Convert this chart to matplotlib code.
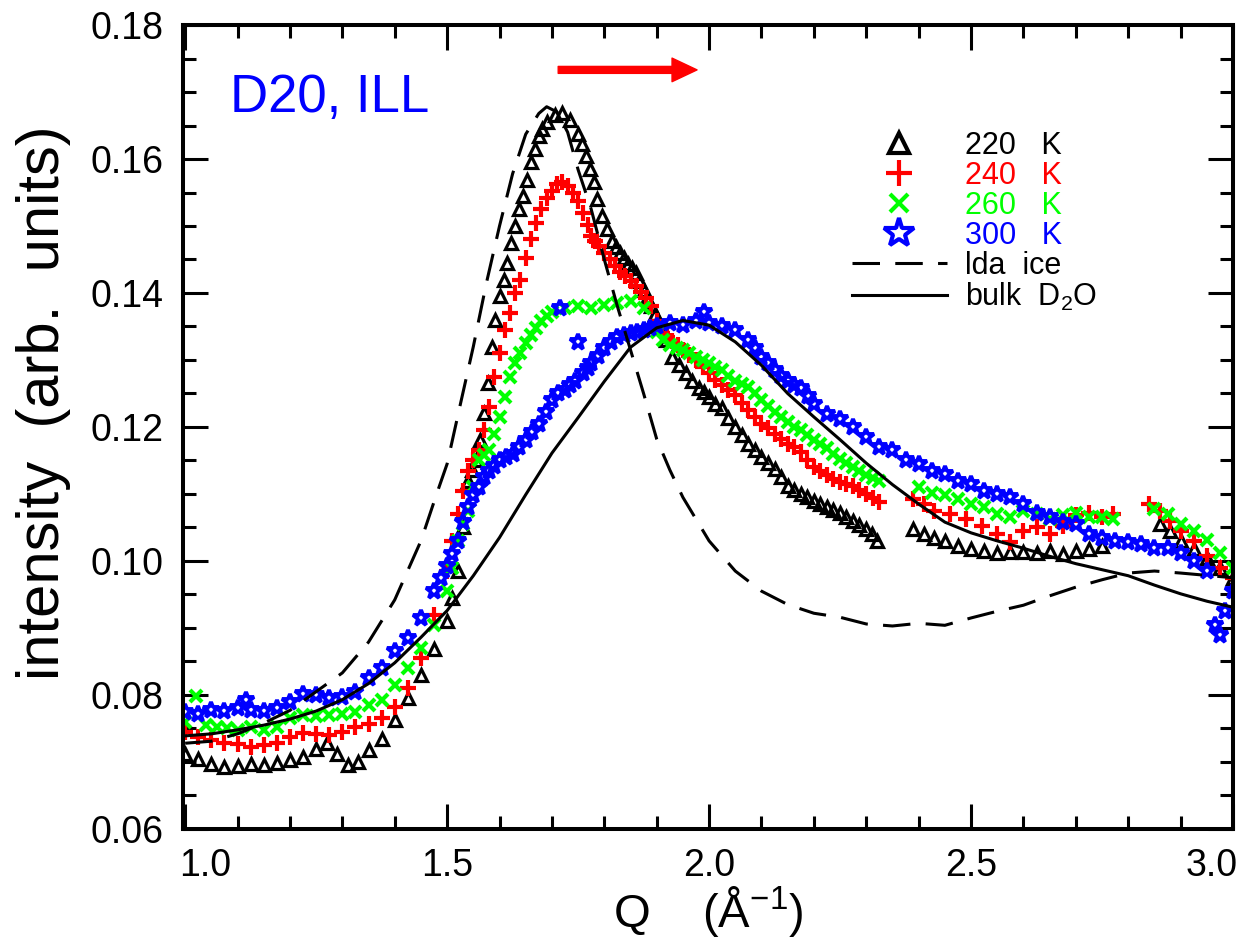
import matplotlib
matplotlib.use('Agg')
import matplotlib.pyplot as plt
import matplotlib.transforms as mtrans
from matplotlib.lines import Line2D
from matplotlib.ticker import MultipleLocator, FormatStrFormatter

# (Q, intensity)
s220 = [(1.000, 0.0712), (1.025, 0.0705), (1.050, 0.0697), (1.075, 0.0693), (1.100, 0.0694),
        (1.125, 0.0697), (1.150, 0.0695), (1.175, 0.0698), (1.200, 0.0703), (1.225, 0.0708),
        (1.250, 0.0720), (1.270, 0.0728), (1.290, 0.0712), (1.310, 0.0695), (1.330, 0.0700),
        (1.350, 0.0718), (1.375, 0.0735), (1.400, 0.0762), (1.425, 0.0795), (1.450, 0.0830),
        (1.475, 0.0868), (1.500, 0.0910), (1.520, 0.0985), (1.540, 0.1120), (1.555, 0.1150),
        (1.570, 0.1221), (1.585, 0.1320), (1.600, 0.1395), (1.615, 0.1445), (1.630, 0.1500),
        (1.645, 0.1545), (1.660, 0.1595), (1.675, 0.1635), (1.690, 0.1655), (1.705, 0.1665),
        (1.720, 0.1668), (1.735, 0.1658), (1.750, 0.1637), (1.765, 0.1605), (1.780, 0.1565),
        (1.795, 0.1515), (1.815, 0.1478), (1.830, 0.1460), (1.845, 0.1443), (1.860, 0.1430),
        (1.875, 0.1404), (1.890, 0.1380), (1.905, 0.1355), (1.930, 0.1305), (1.955, 0.1280),
        (1.980, 0.1258), (2.000, 0.1245), (2.025, 0.1228), (2.050, 0.1200), (2.075, 0.1175),
        (2.100, 0.1155), (2.125, 0.1138), (2.150, 0.1112), (2.175, 0.1100), (2.200, 0.1090),
        (2.225, 0.1080), (2.250, 0.1072), (2.275, 0.1060), (2.300, 0.1048), (2.320, 0.1030),
        (2.390, 0.1048), (2.410, 0.1040), (2.430, 0.1035), (2.450, 0.1030), (2.475, 0.1022),
        (2.500, 0.1018), (2.525, 0.1015), (2.550, 0.1012), (2.575, 0.1013), (2.600, 0.1014),
        (2.625, 0.1012), (2.650, 0.1015), (2.675, 0.1010), (2.700, 0.1015), (2.725, 0.1018),
        (2.750, 0.1022), (2.860, 0.1055), (2.880, 0.1045), (2.900, 0.1030), (2.925, 0.1018),
        (2.950, 0.1005), (2.975, 0.0990), (3.000, 0.0975)]
s220_more = [(1.510, 0.0945), (1.530, 0.1050), (1.548, 0.1136), (1.562, 0.1180), (1.578, 0.1266),
             (1.592, 0.1360), (1.608, 0.1420), (1.622, 0.1475), (1.638, 0.1525), (1.652, 0.1569),
             (1.668, 0.1615), (1.682, 0.1645), (1.757, 0.1622), (1.772, 0.1585), (1.787, 0.1540),
             (1.805, 0.1495), (1.822, 0.1468), (1.838, 0.1452), (1.852, 0.1437), (1.867, 0.1418),
             (1.882, 0.1392), (1.897, 0.1368), (1.918, 0.1330), (1.942, 0.1292), (1.968, 0.1268),
             (1.990, 0.1252), (2.012, 0.1235), (2.037, 0.1214), (2.062, 0.1188), (2.087, 0.1165),
             (2.112, 0.1146), (2.137, 0.1125), (2.162, 0.1106), (2.187, 0.1095), (2.212, 0.1085),
             (2.237, 0.1076), (2.262, 0.1066), (2.287, 0.1054), (2.310, 0.1040)]

s240 = [(1.000, 0.0745), (1.025, 0.0738), (1.050, 0.0733), (1.075, 0.0729), (1.100, 0.0727),
        (1.125, 0.0722), (1.150, 0.0725), (1.175, 0.0728), (1.200, 0.0738), (1.225, 0.0743),
        (1.250, 0.0742), (1.275, 0.0740), (1.300, 0.0745), (1.325, 0.0752), (1.350, 0.0757),
        (1.375, 0.0765), (1.400, 0.0782), (1.425, 0.0810), (1.450, 0.0855), (1.475, 0.0920),
        (1.500, 0.0985), (1.520, 0.1070), (1.540, 0.1135), (1.560, 0.1165), (1.580, 0.1230),
        (1.600, 0.1310), (1.620, 0.1370), (1.640, 0.1420), (1.660, 0.1480), (1.680, 0.1525),
        (1.700, 0.1552), (1.720, 0.1566), (1.740, 0.1550), (1.760, 0.1520), (1.775, 0.1485),
        (1.790, 0.1470), (1.810, 0.1450), (1.830, 0.1432), (1.850, 0.1418), (1.870, 0.1402),
        (1.890, 0.1380), (1.910, 0.1340), (1.930, 0.1328), (1.950, 0.1315), (1.975, 0.1300),
        (2.000, 0.1280), (2.025, 0.1262), (2.050, 0.1248), (2.075, 0.1225), (2.100, 0.1205),
        (2.125, 0.1190), (2.150, 0.1175), (2.175, 0.1163), (2.200, 0.1140), (2.225, 0.1128),
        (2.250, 0.1118), (2.275, 0.1112), (2.300, 0.1100), (2.325, 0.1088), (2.390, 0.1092),
        (2.410, 0.1085), (2.430, 0.1075), (2.460, 0.1070), (2.490, 0.1062), (2.520, 0.1052),
        (2.550, 0.1040), (2.575, 0.1028), (2.600, 0.1045), (2.625, 0.1050), (2.650, 0.1040),
        (2.675, 0.1052), (2.700, 0.1068), (2.725, 0.1072), (2.750, 0.1066), (2.770, 0.1070),
        (2.840, 0.1085), (2.860, 0.1075), (2.880, 0.1060), (2.900, 0.1045), (2.925, 0.1030),
        (2.950, 0.1008), (2.975, 0.0990), (3.000, 0.0975)]
s240_more = [(1.510, 0.1030), (1.530, 0.1105), (1.550, 0.1150), (1.570, 0.1195), (1.590, 0.1275),
             (1.610, 0.1345), (1.630, 0.1400), (1.650, 0.1452), (1.670, 0.1505), (1.690, 0.1542),
             (1.710, 0.1562), (1.730, 0.1560), (1.750, 0.1537), (1.768, 0.1502), (1.782, 0.1478),
             (1.800, 0.1460), (1.820, 0.1440), (1.840, 0.1425), (1.860, 0.1410), (1.880, 0.1392),
             (1.900, 0.1358), (1.920, 0.1334), (1.940, 0.1322), (1.962, 0.1308), (1.988, 0.1290),
             (2.012, 0.1270), (2.037, 0.1255), (2.062, 0.1236), (2.087, 0.1215), (2.112, 0.1198),
             (2.137, 0.1182), (2.162, 0.1170), (2.187, 0.1150), (2.212, 0.1134), (2.237, 0.1123),
             (2.262, 0.1115), (2.287, 0.1106), (2.312, 0.1094)]

s260 = [(1.000, 0.0760), (1.020, 0.0798), (1.040, 0.0755), (1.060, 0.0752), (1.080, 0.0750),
        (1.100, 0.0748), (1.125, 0.0752), (1.150, 0.0747), (1.175, 0.0752), (1.200, 0.0765),
        (1.225, 0.0770), (1.250, 0.0768), (1.275, 0.0770), (1.300, 0.0772), (1.325, 0.0775),
        (1.350, 0.0785), (1.375, 0.0792), (1.400, 0.0815), (1.425, 0.0840), (1.450, 0.0870),
        (1.475, 0.0905), (1.500, 0.0955), (1.520, 0.1030), (1.540, 0.1075), (1.560, 0.1150),
        (1.580, 0.1165), (1.600, 0.1215), (1.620, 0.1275), (1.640, 0.1310), (1.660, 0.1338),
        (1.680, 0.1358), (1.700, 0.1372), (1.725, 0.1378), (1.750, 0.1380), (1.775, 0.1378),
        (1.800, 0.1382), (1.825, 0.1385), (1.850, 0.1388), (1.875, 0.1378), (1.900, 0.1342),
        (1.925, 0.1322), (1.950, 0.1315), (1.975, 0.1305), (2.000, 0.1295), (2.025, 0.1285),
        (2.050, 0.1268), (2.075, 0.1260), (2.100, 0.1240), (2.125, 0.1222), (2.150, 0.1208),
        (2.175, 0.1195), (2.200, 0.1180), (2.225, 0.1168), (2.250, 0.1152), (2.275, 0.1140),
        (2.300, 0.1128), (2.325, 0.1120), (2.400, 0.1110), (2.425, 0.1102), (2.450, 0.1098),
        (2.475, 0.1092), (2.500, 0.1085), (2.525, 0.1080), (2.550, 0.1070), (2.575, 0.1065),
        (2.600, 0.1075), (2.625, 0.1070), (2.650, 0.1062), (2.675, 0.1068), (2.700, 0.1072),
        (2.725, 0.1066), (2.750, 0.1065), (2.770, 0.1062), (2.850, 0.1078), (2.875, 0.1070),
        (2.900, 0.1055), (2.925, 0.1045), (2.950, 0.1032), (2.975, 0.1012), (3.000, 0.0990)]
s260_more = [(1.510, 0.0990), (1.530, 0.1055), (1.550, 0.1110), (1.570, 0.1158), (1.590, 0.1190),
             (1.610, 0.1245), (1.630, 0.1295), (1.650, 0.1325), (1.670, 0.1348), (1.690, 0.1366),
             (1.912, 0.1330), (1.938, 0.1318), (1.962, 0.1310), (1.988, 0.1300), (2.012, 0.1290),
             (2.037, 0.1276), (2.062, 0.1264), (2.087, 0.1250), (2.112, 0.1231), (2.137, 0.1215),
             (2.162, 0.1200), (2.187, 0.1188), (2.212, 0.1174), (2.237, 0.1160), (2.262, 0.1146),
             (2.287, 0.1134), (2.312, 0.1124)]

s300 = [(1.000, 0.0775), (1.025, 0.0772), (1.050, 0.0778), (1.075, 0.0776), (1.100, 0.0780),
        (1.116, 0.0793), (1.125, 0.0778), (1.150, 0.0776), (1.175, 0.0780), (1.200, 0.0790),
        (1.225, 0.0802), (1.250, 0.0800), (1.275, 0.0795), (1.300, 0.0797), (1.325, 0.0805),
        (1.350, 0.0825), (1.375, 0.0840), (1.400, 0.0865), (1.425, 0.0885), (1.450, 0.0915),
        (1.475, 0.0955), (1.500, 0.0992), (1.520, 0.1030), (1.540, 0.1080), (1.560, 0.1110),
        (1.580, 0.1135), (1.600, 0.1150), (1.625, 0.1160), (1.650, 0.1180), (1.675, 0.1205),
        (1.700, 0.1240), (1.716, 0.1378), (1.725, 0.1255), (1.745, 0.1268), (1.750, 0.1327),
        (1.760, 0.1280), (1.775, 0.1295), (1.800, 0.1318), (1.825, 0.1335), (1.850, 0.1340),
        (1.875, 0.1345), (1.900, 0.1350), (1.925, 0.1355), (1.950, 0.1352), (1.975, 0.1358),
        (1.990, 0.1372), (2.000, 0.1355), (2.025, 0.1350), (2.050, 0.1345), (2.075, 0.1330),
        (2.100, 0.1305), (2.125, 0.1285), (2.150, 0.1268), (2.175, 0.1258), (2.200, 0.1235),
        (2.225, 0.1220), (2.250, 0.1212), (2.275, 0.1200), (2.300, 0.1185), (2.325, 0.1170),
        (2.350, 0.1165), (2.375, 0.1150), (2.400, 0.1145), (2.425, 0.1135), (2.450, 0.1130),
        (2.475, 0.1120), (2.500, 0.1115), (2.525, 0.1105), (2.550, 0.1100), (2.575, 0.1095),
        (2.600, 0.1085), (2.625, 0.1072), (2.650, 0.1065), (2.675, 0.1058), (2.700, 0.1055),
        (2.725, 0.1040), (2.750, 0.1035), (2.775, 0.1030), (2.800, 0.1028), (2.825, 0.1025),
        (2.850, 0.1020), (2.875, 0.1020), (2.900, 0.1012), (2.925, 0.1000), (2.950, 0.0985),
        (2.965, 0.0905), (2.975, 0.0890), (2.985, 0.0925), (3.000, 0.0955)]
s300_more = [(1.488, 0.0975), (1.510, 0.1010), (1.530, 0.1058), (1.550, 0.1098), (1.570, 0.1125),
             (1.590, 0.1142), (1.612, 0.1155), (1.638, 0.1170), (1.662, 0.1192), (1.688, 0.1222),
             (1.712, 0.1250), (1.735, 0.1262), (1.768, 0.1288), (1.788, 0.1306), (1.812, 0.1327),
             (1.838, 0.1338), (1.862, 0.1342), (1.888, 0.1348), (2.088, 0.1318), (2.112, 0.1295),
             (2.138, 0.1276), (2.162, 0.1262), (2.188, 0.1246)]

q_lda = [1.00, 1.05, 1.10, 1.15, 1.20, 1.25, 1.30, 1.35, 1.40, 1.45, 1.48, 1.50, 1.525, 1.55,
         1.575, 1.60, 1.625, 1.65, 1.675, 1.69, 1.71, 1.73, 1.75, 1.775, 1.80, 1.825, 1.85,
         1.875, 1.90, 1.925, 1.95, 2.00, 2.05, 2.10, 2.15, 2.20, 2.25, 2.30, 2.35, 2.40, 2.45,
         2.50, 2.55, 2.60, 2.65, 2.70, 2.75, 2.80, 2.85, 2.90, 3.00]
i_lda = [0.0728, 0.0731, 0.0742, 0.0758, 0.0777, 0.0805, 0.0833, 0.0879, 0.0942, 0.1030, 0.1100,
         0.1145, 0.1233, 0.1320, 0.1415, 0.1500, 0.1578, 0.1637, 0.1668, 0.1678, 0.1670, 0.1640,
         0.1584, 0.1525, 0.1450, 0.1380, 0.1315, 0.1250, 0.1182, 0.1136, 0.1095, 0.1030, 0.0985,
         0.0955, 0.0935, 0.0922, 0.0916, 0.0906, 0.0903, 0.0907, 0.0904, 0.0915, 0.0925, 0.0934,
         0.0948, 0.0961, 0.0972, 0.0982, 0.0985, 0.0982, 0.0975]

q_bulk = [1.00, 1.05, 1.10, 1.15, 1.20, 1.25, 1.30, 1.35, 1.40, 1.45, 1.50, 1.55, 1.60, 1.65,
          1.70, 1.75, 1.80, 1.85, 1.90, 1.95, 2.00, 2.05, 2.10, 2.15, 2.20, 2.25, 2.30, 2.35,
          2.40, 2.45, 2.50, 2.55, 2.60, 2.65, 2.70, 2.75, 2.80, 2.85, 2.90, 2.95, 3.00]
i_bulk = [0.0739, 0.0742, 0.0748, 0.0755, 0.0764, 0.0776, 0.0793, 0.0817, 0.0848, 0.0886, 0.0926,
          0.0978, 0.1035, 0.1099, 0.1161, 0.1214, 0.1268, 0.1319, 0.1348, 0.1359, 0.1352, 0.1327,
          0.1292, 0.1250, 0.1215, 0.1181, 0.1146, 0.1114, 0.1085, 0.1058, 0.1042, 0.1030, 0.1019,
          0.1007, 0.0996, 0.0987, 0.0978, 0.0964, 0.0951, 0.0940, 0.0931]

labels = ['220   K', '240   K', '260   K', '300   K', 'lda  ice', r'bulk  D$_2$O']
GREEN = '#00ff00'

plt.rcParams['font.family'] = ['Liberation Sans', 'DejaVu Sans']
plt.rcParams['mathtext.fontset'] = 'custom'
plt.rcParams['mathtext.rm'] = 'Liberation Sans'
plt.rcParams['mathtext.it'] = 'Liberation Sans:italic'

fig = plt.figure(figsize=(12.47, 9.40), dpi=100)
ax = fig.add_axes([0.1468, 0.1181, 0.8420, 0.8553])

styles = [(s220 + s220_more, 'k', '^', 8.5, 2.3),
          (s240 + s240_more, 'r', '+', 11, 3.0),
          (s260 + s260_more, GREEN, 'x', 8, 3.0),
          (s300 + s300_more, 'b', '*', 12, 2.8)]
for data, c, m, ms, mew in styles:
    q, y = zip(*data)
    ax.plot(q, y, ls='none', marker=m, ms=ms, mfc='none', mec=c, mew=mew)

ax.plot(q_lda, i_lda, color='k', lw=2.2, dashes=(9, 5), zorder=5)
ax.plot(q_bulk, i_bulk, color='k', lw=2.2, zorder=5)

# arrow showing the peak shift
ax.annotate('', xy=(1.977, 0.1733), xytext=(1.712, 0.1733),
            arrowprops=dict(facecolor='r', edgecolor='r', width=5, headwidth=17,
                            headlength=18, shrink=0))

ax.text(0.045, 0.892, 'D20, ILL', color='b', fontsize=38, transform=ax.transAxes,
        va='baseline')

handles = [Line2D([], [], ls='none', marker='^', ms=15, mfc='none', mec='k', mew=3),
           Line2D([], [], ls='none', marker='+', ms=19, mec='r', mew=3),
           Line2D([], [], ls='none', marker='x', ms=13, mec=GREEN, mew=3),
           Line2D([], [], ls='none', marker='*', ms=22, mfc='none', mec='b', mew=3),
           Line2D([], [], color='k', lw=2.2, dashes=(9, 5)),
           Line2D([], [], color='k', lw=2.2)]
ax.legend(handles, labels, loc='upper left', bbox_to_anchor=(0.637, 0.868),
          frameon=False, fontsize=22, handlelength=3.1, handletextpad=0.6,
          labelspacing=0.0, borderpad=0, borderaxespad=0,
          labelcolor=['k', 'r', GREEN, 'b', 'k', 'k'])

ax.set_xlim(0.996, 3.0)
ax.set_ylim(0.06, 0.18)
ax.set_xticks([1.0, 1.5, 2.0, 2.5, 3.0])
ax.xaxis.set_minor_locator(MultipleLocator(0.1))
ax.yaxis.set_major_locator(MultipleLocator(0.02))
ax.yaxis.set_minor_locator(MultipleLocator(0.005))
ax.xaxis.set_major_formatter(FormatStrFormatter('%.1f'))
ax.yaxis.set_major_formatter(FormatStrFormatter('%.2f'))
ax.tick_params(which='both', direction='in', top=True, right=True, width=2.2,
               labelsize=27)
ax.tick_params(which='major', length=18, pad=14)
ax.tick_params(which='minor', length=9.5)
for sp in ax.spines.values():
    sp.set_linewidth(2.9)

ax.set_xlabel(r'Q    (Å$^{-1}$)', fontsize=34, labelpad=0)
ax.set_ylabel('intensity  (arb.  units)', fontsize=43)
ax.yaxis.set_label_coords(-0.107, 0.53)

# end labels of the Q axis sit inside the frame
ticks = ax.xaxis.get_major_ticks()
for tk, dx in [(ticks[0], 0.2), (ticks[-1], -0.21)]:
    tk.label1.set_transform(tk.label1.get_transform() +
                            mtrans.ScaledTranslation(dx, 0, fig.dpi_scale_trans))

fig.savefig('out.png', dpi=100)
